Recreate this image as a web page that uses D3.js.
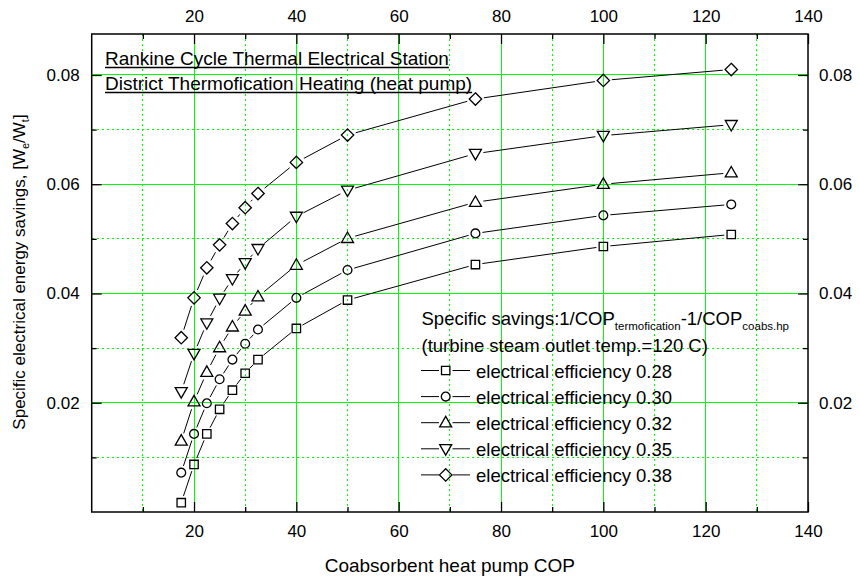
<!DOCTYPE html>
<html>
<head>
<meta charset="utf-8">
<script src="https://cdn.jsdelivr.net/npm/d3@7"></script>
<style>
  body { margin: 0; background: #fff; }
  svg text { font-family: "Liberation Sans", Arial, sans-serif; fill: #000; }
</style>
</head>
<body>
<script>
// data
var cop = [17.5, 20, 22.5, 25, 27.5, 30, 32.5, 40, 50, 75, 100, 125];
var eff028 = [0.0017, 0.0087, 0.0143, 0.0188, 0.0223, 0.0254, 0.0279, 0.0336, 0.0388, 0.0453, 0.0486, 0.0508];
var eff030 = [0.0072, 0.0143, 0.0199, 0.0243, 0.0279, 0.0308, 0.0334, 0.0392, 0.0443, 0.0510, 0.0543, 0.0563];
var eff032 = [0.0130, 0.0202, 0.0256, 0.0301, 0.0339, 0.0368, 0.0394, 0.0452, 0.0501, 0.0567, 0.0600, 0.0621];
var eff035 = [0.0220, 0.0290, 0.0346, 0.0391, 0.0427, 0.0456, 0.0482, 0.0541, 0.0589, 0.0656, 0.0689, 0.0709];
var eff038 = [0.0319, 0.0392, 0.0447, 0.0489, 0.0528, 0.0557, 0.0583, 0.0640, 0.0690, 0.0756, 0.0790, 0.0810];
var seriesNames = ["electrical efficiency 0.28", "electrical efficiency 0.30", "electrical efficiency 0.32",
                   "electrical efficiency 0.35", "electrical efficiency 0.38"];
var seriesMarkers = ["square", "circle", "triangle", "itriangle", "diamond"];
var xMajor = [20, 40, 60, 80, 100, 120, 140];
var xMinor = [10, 30, 50, 70, 90, 110, 130];
var yMajor = [0.02, 0.04, 0.06, 0.08];
var yMinor = [0.01, 0.03, 0.05, 0.07];
var titleLines = ["Rankine Cycle Thermal Electrical Station", "District Thermofication Heating (heat pump)"];

var series = [eff028, eff030, eff032, eff035, eff038].map(function(vals, i) {
  return { name: seriesNames[i], marker: seriesMarkers[i],
           values: vals.map(function(v, j) { return { cop: cop[j], val: v }; }) };
});

var W = 860, H = 579;
var pLeft = 91.7, pRight = 808, pTop = 34, pBottom = 512;

var svg = d3.select("body").append("svg").attr("width", W).attr("height", H);

var x = d3.scaleLinear().domain([0, 140]).range([pLeft, pRight]);
var y = d3.scaleLinear().domain([0, 0.0875]).range([pBottom, pTop]);

var green = "#00ff00";

// grid
var grid = svg.append("g").attr("shape-rendering", "crispEdges");
grid.selectAll(".vmaj").data(xMajor.filter(function(d){ return d < 140; })).enter().append("line")
  .attr("x1", x).attr("x2", x).attr("y1", pTop).attr("y2", pBottom)
  .attr("stroke", green).attr("stroke-width", 1);
grid.selectAll(".vmin").data(xMinor).enter().append("line")
  .attr("x1", x).attr("x2", x).attr("y1", pTop).attr("y2", pBottom)
  .attr("stroke", green).attr("stroke-width", 1).attr("stroke-dasharray", "2,3");
grid.selectAll(".hmaj").data(yMajor).enter().append("line")
  .attr("y1", y).attr("y2", y).attr("x1", pLeft).attr("x2", pRight)
  .attr("stroke", green).attr("stroke-width", 1);
grid.selectAll(".hmin").data(yMinor).enter().append("line")
  .attr("y1", y).attr("y2", y).attr("x1", pLeft).attr("x2", pRight)
  .attr("stroke", green).attr("stroke-width", 1).attr("stroke-dasharray", "2,3");

// axes (ticks inward on all four sides)
function styleAxis(g, size) {
  g.select(".domain").remove();
  g.selectAll(".tick line").attr("stroke", "#000").attr("stroke-width", 1.3);
  g.selectAll(".tick text").style("font-family", '"Liberation Sans", Arial, sans-serif')
    .style("font-size", size + "px").attr("fill", "#000");
}
var tickFont = 17;
svg.append("g").attr("transform", "translate(0," + pBottom + ")")
  .call(d3.axisBottom(x).tickValues(xMajor).tickSize(-10).tickPadding(13).tickFormat(d3.format("d")))
  .call(styleAxis, tickFont);
svg.append("g").attr("transform", "translate(0," + pBottom + ")")
  .call(d3.axisBottom(x).tickValues(xMinor).tickSize(-5).tickFormat(""))
  .call(styleAxis, tickFont);
svg.append("g").attr("transform", "translate(0," + pTop + ")")
  .call(d3.axisTop(x).tickValues(xMajor).tickSize(-10).tickPadding(12).tickFormat(d3.format("d")))
  .call(styleAxis, tickFont);
svg.append("g").attr("transform", "translate(0," + pTop + ")")
  .call(d3.axisTop(x).tickValues(xMinor).tickSize(-5).tickFormat(""))
  .call(styleAxis, tickFont);
svg.append("g").attr("transform", "translate(" + pLeft + ",0)")
  .call(d3.axisLeft(y).tickValues(yMajor).tickSize(-10).tickPadding(12).tickFormat(d3.format(".2f")))
  .call(styleAxis, tickFont);
svg.append("g").attr("transform", "translate(" + pLeft + ",0)")
  .call(d3.axisLeft(y).tickValues(yMinor).tickSize(-5).tickFormat(""))
  .call(styleAxis, tickFont);
svg.append("g").attr("transform", "translate(" + pRight + ",0)")
  .call(d3.axisRight(y).tickValues(yMajor).tickSize(-10).tickPadding(11).tickFormat(d3.format(".2f")))
  .call(styleAxis, tickFont);
svg.append("g").attr("transform", "translate(" + pRight + ",0)")
  .call(d3.axisRight(y).tickValues(yMinor).tickSize(-5).tickFormat(""))
  .call(styleAxis, tickFont);

// border
svg.append("rect").attr("x", pLeft).attr("y", pTop).attr("width", pRight - pLeft).attr("height", pBottom - pTop)
  .attr("fill", "none").attr("stroke", "#000").attr("stroke-width", 1.5);

// axis labels
svg.append("text").attr("x", (pLeft + pRight) / 2).attr("y", 572).attr("text-anchor", "middle")
  .style("font-size", "19px").text("Coabsorbent heat pump COP");
var yl = svg.append("text").attr("transform", "translate(25," + 272 + ") rotate(-90)")
  .attr("text-anchor", "middle").style("font-size", "17px");
yl.append("tspan").text("Specific electrical energy savings, [W");
yl.append("tspan").attr("dy", 4).style("font-size", "11px").text("e");
yl.append("tspan").attr("dy", -4).text("/W");
yl.append("tspan").attr("dy", 4).style("font-size", "11px").text("t");
yl.append("tspan").attr("dy", -4).text("]");

// title lines, underlined
titleLines.forEach(function(t, i) {
  var ty = 64.5 + i * 25;
  var tx = svg.append("text").attr("x", 105).attr("y", ty).style("font-size", "19px").text(t);
  var w = tx.node().getComputedTextLength();
  svg.append("line").attr("x1", 105).attr("x2", 105 + w).attr("y1", ty + 3).attr("y2", ty + 3)
    .attr("stroke", "#000").attr("stroke-width", 1.6);
});

// marker shapes
function markerPath(type) {
  switch (type) {
    case "square": return "M-4.2,-4.2H4.2V4.2H-4.2Z";
    case "circle": return "M4.4,0A4.4,4.4 0 1,1 -4.4,0A4.4,4.4 0 1,1 4.4,0Z";
    case "triangle": return "M0,-6.3L6,4.2H-6Z";
    case "itriangle": return "M0,6.3L6,-4.2H-6Z";
    case "diamond": return "M0,-6.2L6.2,0L0,6.2L-6.2,0Z";
  }
}
var gap = { square: 7, circle: 7, triangle: 8, itriangle: 8, diamond: 8.5 };

// curves: segments with gaps at the points
series.forEach(function(s) {
  var g = svg.append("g");
  var pts = s.values.map(function(d) { return [x(d.cop), y(d.val)]; });
  var segs = d3.pairs(pts);
  var gp = gap[s.marker];
  g.selectAll("line").data(segs).enter().append("line")
    .each(function(p) {
      var dx = p[1][0] - p[0][0], dy = p[1][1] - p[0][1];
      var len = Math.sqrt(dx * dx + dy * dy);
      var ux = dx / len, uy = dy / len;
      d3.select(this)
        .attr("x1", p[0][0] + ux * gp).attr("y1", p[0][1] + uy * gp)
        .attr("x2", p[1][0] - ux * gp).attr("y2", p[1][1] - uy * gp);
    })
    .attr("stroke", "#000").attr("stroke-width", 1);
  g.selectAll("path").data(s.values).enter().append("path")
    .attr("transform", function(d) { return "translate(" + x(d.cop) + "," + y(d.val) + ")"; })
    .attr("d", markerPath(s.marker))
    .attr("fill", "none").attr("stroke", "#000").attr("stroke-width", 1.3);
});

// legend
var lg = svg.append("g");
var h1 = lg.append("text").attr("x", 421.5).attr("y", 325).style("font-size", "18.5px");
h1.append("tspan").text("Specific savings:1/COP");
h1.append("tspan").attr("dy", 5).style("font-size", "11.5px").text("termofication");
h1.append("tspan").attr("dy", -5).text("-1/COP");
h1.append("tspan").attr("dy", 5).style("font-size", "11.5px").text("coabs.hp");
lg.append("text").attr("x", 421.5).attr("y", 351.5).style("font-size", "18.5px")
  .text("(turbine steam outlet temp.=120 C)");

series.forEach(function(s, i) {
  var by = 377.5 + i * 26.1;
  var my = by - 7;
  lg.append("line").attr("x1", 421).attr("x2", 439).attr("y1", my).attr("y2", my)
    .attr("stroke", "#000").attr("stroke-width", 1);
  lg.append("line").attr("x1", 452.5).attr("x2", 470).attr("y1", my).attr("y2", my)
    .attr("stroke", "#000").attr("stroke-width", 1);
  lg.append("path").attr("transform", "translate(445.7," + my + ")")
    .attr("d", markerPath(s.marker)).attr("fill", "none").attr("stroke", "#000").attr("stroke-width", 1.3);
  lg.append("text").attr("x", 476).attr("y", by).style("font-size", "18.5px").text(s.name);
});
</script>
</body>
</html>
